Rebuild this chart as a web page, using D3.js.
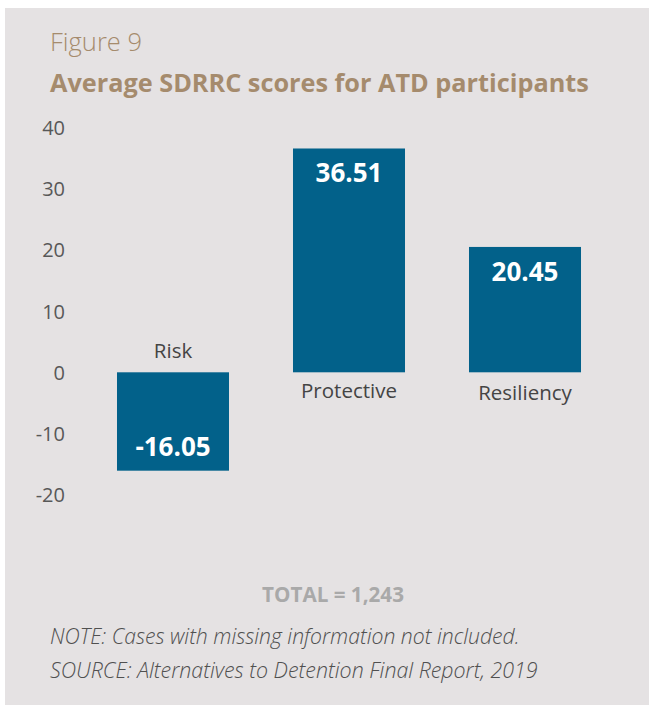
<!DOCTYPE html>
<html>
<head>
<meta charset="utf-8">
<script src="https://cdnjs.cloudflare.com/ajax/libs/d3/7.8.5/d3.min.js"></script>
<style>
  html, body { margin: 0; padding: 0; background: #ffffff; }
  svg { display: block; font-family: "Open Sans", "Noto Sans", sans-serif; }
</style>
</head>
<body>
<div id="chart"></div>
<script>
const categories = ["Risk", "Protective", "Resiliency"];
const scores = [-16.05, 36.51, 20.45];
const valueLabels = ["-16.05", "36.51", "20.45"];
const yTicks = [-20, -10, 0, 10, 20, 30, 40];

const WIDTH = 649;
const HEIGHT = 705;

const svg = d3
  .select("#chart")
  .append("svg")
  .attr("width", WIDTH)
  .attr("height", HEIGHT);

// grey panel behind everything
svg
  .append("rect")
  .attr("x", 5)
  .attr("y", 8)
  .attr("width", WIDTH - 5)
  .attr("height", HEIGHT - 8)
  .attr("fill", "#e5e2e3");

// shrink / grow a text so it spans the width seen in the picture
function fitWidth(sel, target) {
  const w = sel.node().getComputedTextLength();
  const fs = parseFloat(sel.attr("font-size"));
  sel.attr("font-size", (fs * target) / w);
}

const figLabel = svg
  .append("text")
  .attr("x", 50)
  .attr("y", 51)
  .attr("font-size", 26)
  .attr("font-weight", 300)
  .attr("fill", "#a58b6d")
  .text("Figure 9");
fitWidth(figLabel, 92);

const title = svg
  .append("text")
  .attr("x", 50)
  .attr("y", 92)
  .attr("font-size", 24)
  .attr("font-weight", 700)
  .attr("fill", "#a58b6d")
  .text("Average SDRRC scores for ATD participants");
fitWidth(title, 539);

// scales
const x = d3
  .scaleBand()
  .domain(categories)
  .range([85, 613])
  .paddingInner(0.3636)
  .paddingOuter(0.1818);

const y = d3.scaleLinear().domain([-20, 40]).range([494.9, 127.1]);

// y axis, no line and no ticks, only the numbers (plain hyphen for minus)
const yAxis = svg
  .append("g")
  .attr("transform", "translate(65,0)")
  .call(d3.axisLeft(y).tickValues(yTicks).tickSize(0).tickPadding(0).tickFormat((d) => String(d)));
yAxis.select(".domain").remove();
yAxis
  .selectAll("text")
  .attr("font-family", "'Open Sans', 'Noto Sans', sans-serif")
  .attr("font-size", 20)
  .attr("fill", "#585858")
  .attr("dy", "0.35em");

const data = categories.map((c, i) => ({ cat: c, val: scores[i], label: valueLabels[i] }));

// bars
svg
  .selectAll(".bar")
  .data(data)
  .enter()
  .append("rect")
  .attr("class", "bar")
  .attr("x", (d) => x(d.cat))
  .attr("y", (d) => y(Math.max(0, d.val)))
  .attr("width", x.bandwidth())
  .attr("height", (d) => Math.abs(y(d.val) - y(0)))
  .attr("fill", "#02618a");

// value labels inside bars
svg
  .selectAll(".val")
  .data(data)
  .enter()
  .append("text")
  .attr("class", "val")
  .attr("x", (d) => x(d.cat) + x.bandwidth() / 2)
  .attr("y", (d) => (d.val >= 0 ? y(d.val) + 34 : y(d.val) - 14.5))
  .attr("text-anchor", "middle")
  .attr("font-size", 26)
  .attr("font-weight", 700)
  .attr("fill", "#ffffff")
  .text((d) => d.label);

// category labels, on the other side of zero
svg
  .selectAll(".cat")
  .data(data)
  .enter()
  .append("text")
  .attr("class", "cat")
  .attr("x", (d) => x(d.cat) + x.bandwidth() / 2)
  .attr("y", (d) => (d.val >= 0 ? y(0) + (d.cat === "Resiliency" ? 28 : 26) : y(0) - 14))
  .attr("text-anchor", "middle")
  .attr("font-size", 20.5)
  .attr("font-weight", 400)
  .attr("fill", "#444444")
  .text((d) => d.cat);

// footer
const total = svg
  .append("text")
  .attr("x", 333)
  .attr("y", 602)
  .attr("text-anchor", "middle")
  .attr("font-size", 20)
  .attr("font-weight", 700)
  .attr("fill", "#a9a9a9")
  .text("TOTAL = 1,243");
fitWidth(total, 142);

const note = svg
  .append("text")
  .attr("x", 50)
  .attr("y", 644)
  .attr("font-size", 19)
  .attr("font-style", "italic")
  .attr("font-weight", 300)
  .attr("fill", "#505050")
  .text("NOTE: Cases with missing information not included.");
fitWidth(note, 470);

const source = svg
  .append("text")
  .attr("x", 50)
  .attr("y", 677.5)
  .attr("font-size", 19)
  .attr("font-style", "italic")
  .attr("font-weight", 300)
  .attr("fill", "#505050")
  .text("SOURCE: Alternatives to Detention Final Report, 2019");
fitWidth(source, 488);
</script>
</body>
</html>
